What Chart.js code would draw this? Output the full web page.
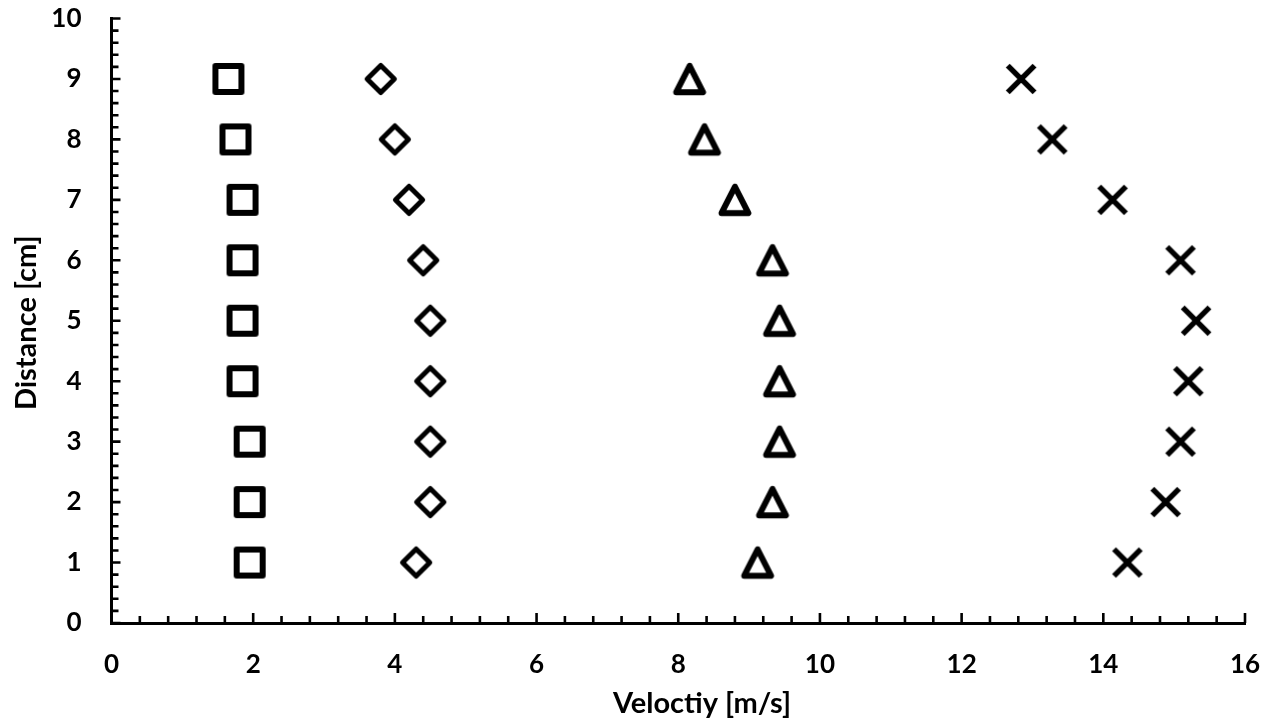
<!DOCTYPE html>
<html>
<head>
<meta charset="utf-8">
<script src="https://cdn.jsdelivr.net/npm/chart.js@4/dist/chart.umd.min.js"></script>
<style>
  html, body { margin: 0; padding: 0; background: #fff; }
  #wrap { width: 1269px; height: 721px; }
</style>
</head>
<body>
<div id="wrap"><canvas id="c" width="1269" height="721"></canvas></div>
<script>
// Measured velocity profiles: distance from the wall vs. velocity
const distance = [1, 2, 3, 4, 5, 6, 7, 8, 9];
const velSquare   = [1.95, 1.95, 1.95, 1.85, 1.85, 1.85, 1.85, 1.75, 1.65];
const velDiamond  = [4.30, 4.50, 4.50, 4.50, 4.50, 4.40, 4.20, 4.00, 3.80];
const velTriangle = [9.12, 9.33, 9.43, 9.43, 9.43, 9.33, 8.80, 8.37, 8.16];
const velCross    = [14.34, 14.88, 15.09, 15.20, 15.31, 15.09, 14.13, 13.28, 12.84];

const xTickValues = [0, 2, 4, 6, 8, 10, 12, 14, 16];
const yTickValues = [0, 1, 2, 3, 4, 5, 6, 7, 8, 9, 10];

const FONT = 'Lato, "Open Sans", sans-serif';
const X_MINOR = 0.4;
const Y_MINOR = 0.2;

// Open marker glyphs drawn on small canvases
function makeMarker(kind) {
  const s = 44, c = s / 2;
  const cv = document.createElement('canvas');
  cv.width = s; cv.height = s;
  const g = cv.getContext('2d');
  g.strokeStyle = '#000';
  g.lineJoin = 'round';
  g.beginPath();
  if (kind === 'square') {
    g.lineWidth = 6;
    g.rect(c - 13, c - 13, 26, 26);
  } else if (kind === 'diamond') {
    g.lineWidth = 5;
    const r = 13.6;
    g.moveTo(c, c - r); g.lineTo(c + r, c); g.lineTo(c, c + r); g.lineTo(c - r, c); g.closePath();
  } else if (kind === 'triangle') {
    g.lineWidth = 6;
    const hw = 13.4, hh = 13.2;
    g.moveTo(c, c - hh); g.lineTo(c + hw, c + hh); g.lineTo(c - hw, c + hh); g.closePath();
  } else {
    g.lineWidth = 5.5;
    g.lineCap = 'butt';
    const d = 13.4;
    g.moveTo(c - d, c - d); g.lineTo(c + d, c + d);
    g.moveTo(c + d, c - d); g.lineTo(c - d, c + d);
  }
  g.stroke();
  return cv;
}

function points(vals) {
  return vals.map((v, i) => ({ x: v, y: distance[i] }));
}

function series(label, vals, kind) {
  return {
    label,
    data: points(vals),
    pointStyle: makeMarker(kind),
    pointRadius: 16,
    pointHoverRadius: 16,
    showLine: false,
    borderColor: '#000',
    backgroundColor: '#000'
  };
}

// Inward-pointing major and minor tick marks plus axis titles
const axisDecor = {
  id: 'axisDecor',
  afterDraw(chart) {
    const { ctx, chartArea, scales: { x, y } } = chart;
    ctx.save();
    ctx.strokeStyle = '#000';
    ctx.lineWidth = 2.6;
    ctx.beginPath();
    const nx = Math.round((x.max - x.min) / X_MINOR);
    for (let i = 0; i <= nx; i++) {
      const v = x.min + i * X_MINOR;
      const major = xTickValues.some(t => Math.abs(t - v) < 1e-6);
      const px = x.getPixelForValue(v);
      ctx.moveTo(px, chartArea.bottom);
      ctx.lineTo(px, chartArea.bottom - (major ? 10 : 7));
    }
    const ny = Math.round((y.max - y.min) / Y_MINOR);
    for (let i = 0; i <= ny; i++) {
      const v = y.min + i * Y_MINOR;
      const major = yTickValues.some(t => Math.abs(t - v) < 1e-6);
      const py = y.getPixelForValue(v);
      ctx.moveTo(chartArea.left, py);
      ctx.lineTo(chartArea.left + (major ? 9 : 7), py);
    }
    ctx.stroke();

    ctx.fillStyle = '#000';
    ctx.font = 'bold 29px ' + FONT;
    ctx.textAlign = 'center';
    ctx.textBaseline = 'alphabetic';
    ctx.fillText('Veloctiy [m/s]', 702, 713);
    ctx.translate(36, (chartArea.top + chartArea.bottom) / 2 + 2);
    ctx.rotate(-Math.PI / 2);
    ctx.fillText('Distance [cm]', 0, 0);
    ctx.restore();
  }
};

new Chart(document.getElementById('c'), {
  type: 'scatter',
  data: {
    datasets: [
      series('Series 1', velSquare, 'square'),
      series('Series 2', velDiamond, 'diamond'),
      series('Series 3', velTriangle, 'triangle'),
      series('Series 4', velCross, 'cross')
    ]
  },
  options: {
    responsive: false,
    animation: false,
    devicePixelRatio: 1,
    layout: { autoPadding: false, padding: { left: 0, right: 24, top: 18.5, bottom: 0 } },
    plugins: { legend: { display: false }, tooltip: { enabled: false } },
    scales: {
      x: {
        type: 'linear',
        min: 0, max: 16,
        afterBuildTicks: s => { s.ticks = xTickValues.map(v => ({ value: v })); },
        afterFit: s => { s.height = 98; s.paddingLeft = 0; s.paddingRight = 0; },
        ticks: { color: '#000', font: { family: FONT, size: 26, weight: 'bold' }, padding: 26, maxRotation: 0 },
        grid: { display: true, drawOnChartArea: false, drawTicks: false },
        border: { display: true, color: '#000', width: 3 }
      },
      y: {
        type: 'linear',
        min: 0, max: 10,
        afterBuildTicks: s => { s.ticks = yTickValues.map(v => ({ value: v })); },
        afterFit: s => { s.width = 111.5; s.paddingTop = 0; s.paddingBottom = 0; },
        ticks: { color: '#000', font: { family: FONT, size: 26, weight: 'bold' }, padding: 30 },
        grid: { display: true, drawOnChartArea: false, drawTicks: false },
        border: { display: true, color: '#000', width: 3 }
      }
    }
  },
  plugins: [axisDecor]
});
</script>
</body>
</html>
